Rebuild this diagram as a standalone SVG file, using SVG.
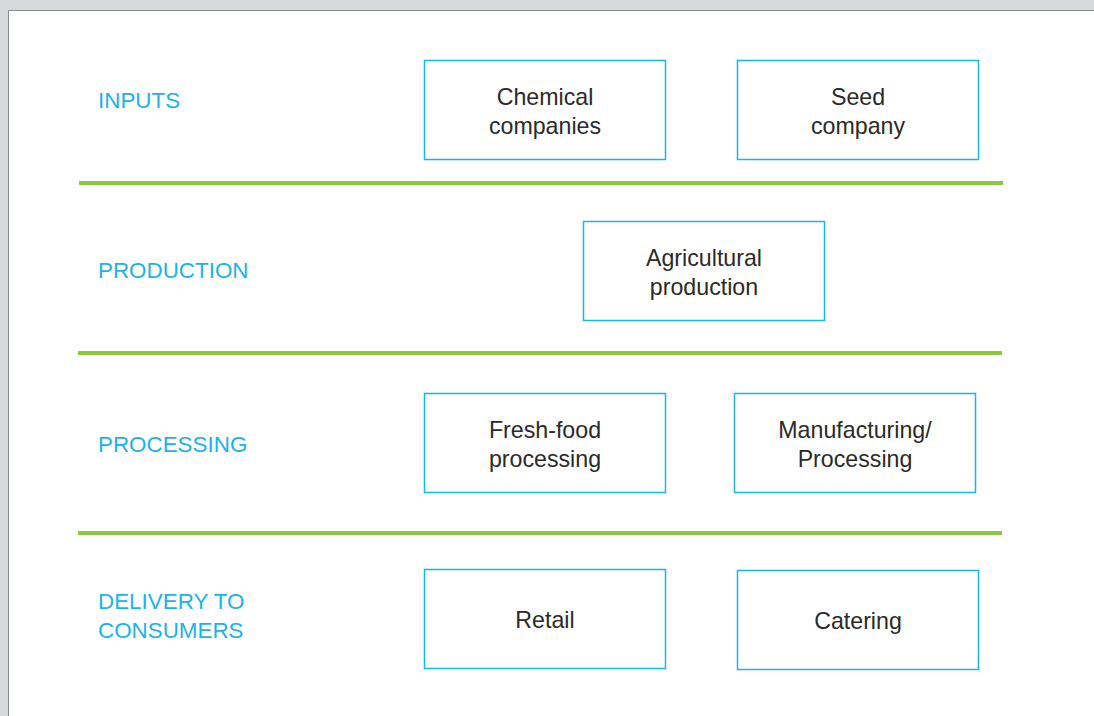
<svg xmlns="http://www.w3.org/2000/svg" width="1094" height="716" viewBox="0 0 1094 716">
<style>
.lbl{font-family:"Liberation Sans",Arial,sans-serif;font-size:22.4px;fill:#1cb3ea}
.box{fill:#fff;stroke:#1ab4ec;stroke-width:1.5}
.t{font-family:"Liberation Sans",Arial,sans-serif;font-size:23.2px;fill:#2a2a2a;text-anchor:middle}
.sep{stroke:#8dc63f;stroke-width:4}
</style>
<rect x="0" y="0" width="1094" height="716" fill="#d8d9db"/>
<rect x="9" y="11" width="1085" height="705" fill="#fff"/>
<line x1="8.5" y1="10.5" x2="1094" y2="10.5" stroke="#8c8c8c" stroke-width="1"/>
<line x1="8.5" y1="10.5" x2="8.5" y2="716" stroke="#8c8c8c" stroke-width="1"/>
<g id="separators">
<line class="sep" x1="79" y1="183" x2="1003" y2="183"/>
<line class="sep" x1="78" y1="353" x2="1002" y2="353"/>
<line class="sep" x1="78" y1="533" x2="1002" y2="533"/>
</g>
<g id="labels">
<text class="lbl" x="98" y="108">INPUTS</text>
<text class="lbl" x="98" y="278">PRODUCTION</text>
<text class="lbl" x="98" y="452">PROCESSING</text>
<text class="lbl" x="98" y="609">DELIVERY TO</text>
<text class="lbl" x="98" y="638">CONSUMERS</text>
</g>
<g id="chemical">
<rect class="box" x="424.5" y="60.5" width="241" height="99"/>
<text class="t" x="545" y="105">Chemical</text>
<text class="t" x="545" y="134">companies</text>
</g>
<g id="seed">
<rect class="box" x="737.5" y="60.5" width="241" height="99"/>
<text class="t" x="858" y="105">Seed</text>
<text class="t" x="858" y="134">company</text>
</g>
<g id="agricultural">
<rect class="box" x="583.5" y="221.5" width="241" height="99"/>
<text class="t" x="704" y="266">Agricultural</text>
<text class="t" x="704" y="295">production</text>
</g>
<g id="freshfood">
<rect class="box" x="424.5" y="393.5" width="241" height="99"/>
<text class="t" x="545" y="438">Fresh-food</text>
<text class="t" x="545" y="467">processing</text>
</g>
<g id="manufacturing">
<rect class="box" x="734.5" y="393.5" width="241" height="99"/>
<text class="t" x="855" y="438">Manufacturing/</text>
<text class="t" x="855" y="467">Processing</text>
</g>
<g id="retail">
<rect class="box" x="424.5" y="569.5" width="241" height="99"/>
<text class="t" x="545" y="628">Retail</text>
</g>
<g id="catering">
<rect class="box" x="737.5" y="570.5" width="241" height="99"/>
<text class="t" x="858" y="629">Catering</text>
</g>
<g id="connectors"></g>
</svg>
